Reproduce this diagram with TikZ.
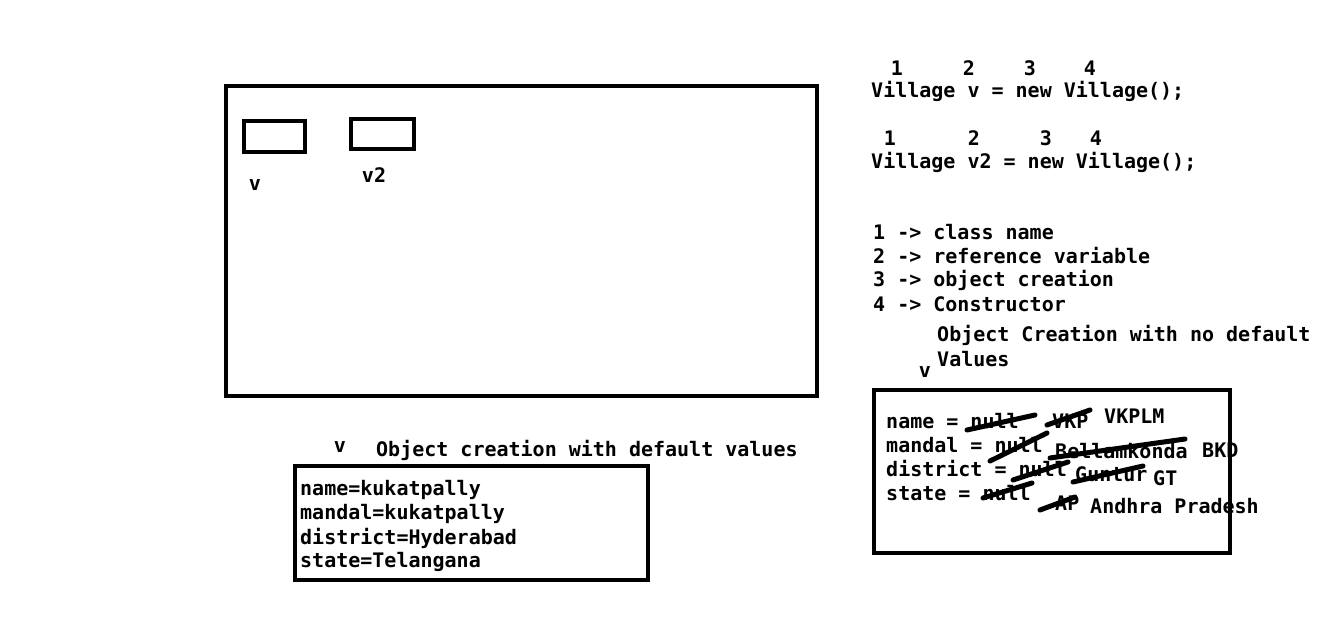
\documentclass[tikz,border=0pt]{standalone}
\usepackage{fontspec}
\setmonofont{DejaVu Sans Mono}
\begin{document}
\begin{tikzpicture}[x=1pt,y=-1pt,
  box/.style={draw=black,line width=4.8pt},
  txt/.style={anchor=west,inner sep=0pt,font=\ttfamily\bfseries\fontsize{20}{24}\selectfont},
  ctxt/.style={anchor=center,inner sep=0pt,font=\ttfamily\bfseries\fontsize{20}{24}\selectfont},
  strike/.style={line width=5pt,line cap=round}]
\useasboundingbox (0,0) rectangle (1322,624);
\fill[white] (0,0) rectangle (1322,624);
% heap box
\draw[box] (226,86) rectangle (817,396);
\draw[box] (244,121) rectangle (305,152);
\draw[box] (351,119) rectangle (414,149);
\node[ctxt] (lv) at (255,185) {v};
\node[ctxt] (lv2) at (374,175) {v2};
% code
\node[ctxt] (a1) at (897,68) {1};
\node[ctxt] (a2) at (969,68) {2};
\node[ctxt] (a3) at (1030,68) {3};
\node[ctxt] (a4) at (1090,68) {4};
\node[txt] (c1) at (871,91) {Village v = new Village();};
\node[ctxt] (b1) at (890,138) {1};
\node[ctxt] (b2) at (974,138) {2};
\node[ctxt] (b3) at (1046,138) {3};
\node[ctxt] (b4) at (1096,138) {4};
\node[txt] (c2) at (871,162) {Village v2 = new Village();};
\node[txt] (l1) at (873,232) {1 -> class name};
\node[txt] (l2) at (873,256) {2 -> reference variable};
\node[txt] (l3) at (873,280) {3 -> object creation};
\node[txt] (l4) at (873,304) {4 -> Constructor};
\node[txt] (t1) at (937,335) {Object Creation with no default};
\node[txt] (t2) at (937,359) {Values};
\node[ctxt] (rv) at (925,372) {v};
% right object
\draw[box] (874,390) rectangle (1230,553);
\node[txt] (r1) at (886,421) {name = null};
\node[txt] (r2) at (886,445) {mandal = null};
\node[txt] (r3) at (886,469) {district = null};
\node[txt] (r4) at (886,493) {state = null};
\node[txt] (vkp) at (1052,421) {VKP};
\node[txt] (vkplm) at (1104,416) {VKPLM};
\node[txt] (bel) at (1055,451) {Bellamkonda};
\node[txt] (bkd) at (1202,450) {BKD};
\node[txt] (gun) at (1075,474) {Guntur};
\node[txt] (gt) at (1153,478) {GT};
\node[txt] (ap) at (1055,503) {AP};
\node[txt] (andhra) at (1090,506) {Andhra Pradesh};
\draw[strike] (967,430) -- (1035,415);
\draw[strike] (1047,425) -- (1090,410);
\draw[strike] (990,461) -- (1047,433);
\draw[strike] (1050,458) -- (1185,439);
\draw[strike] (1013,480) -- (1068,462);
\draw[strike] (1073,482) -- (1143,466);
\draw[strike] (983,498) -- (1032,483);
\draw[strike] (1040,510) -- (1075,497);
% bottom object
\node[ctxt] (bv) at (340,447) {v};
\node[txt] (bt) at (376,450) {Object creation with default values};
\draw[box] (295,466) rectangle (648,580);
\node[txt] (d1) at (300,490) {name=kukatpally};
\node[txt] (d2) at (300,514) {mandal=kukatpally};
\node[txt] (d3) at (300,538) {district=Hyderabad};
\node[txt] (d4) at (300,562) {state=Telangana};
\end{tikzpicture}
\end{document}
